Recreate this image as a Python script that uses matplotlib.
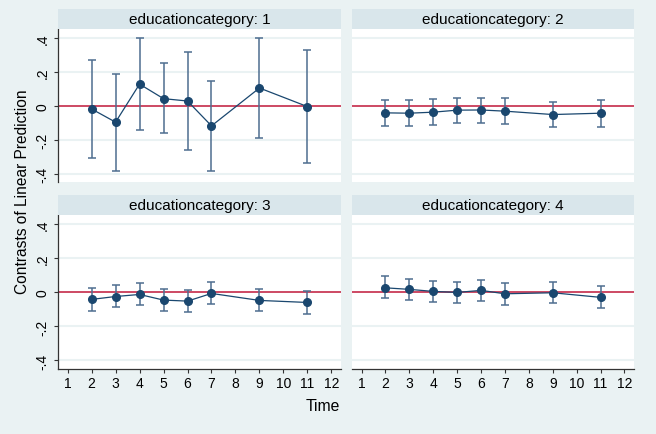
import matplotlib
matplotlib.use("Agg")
import matplotlib.pyplot as plt

plt.rcParams['font.family'] = ['Liberation Sans', 'DejaVu Sans']

# values
time = [2, 3, 4, 5, 6, 7, 9, 11]
categories = ["1", "2", "3", "4"]

est1 = [-0.018, -0.096, 0.129, 0.043, 0.029, -0.118, 0.106, -0.004]
lo1 = [-0.306, -0.382, -0.143, -0.163, -0.263, -0.382, -0.192, -0.337]
hi1 = [0.270, 0.190, 0.404, 0.255, 0.320, 0.149, 0.404, 0.329]

est2 = [-0.041, -0.043, -0.037, -0.025, -0.024, -0.031, -0.051, -0.043]
lo2 = [-0.116, -0.118, -0.112, -0.100, -0.100, -0.108, -0.127, -0.122]
hi2 = [0.037, 0.033, 0.039, 0.047, 0.049, 0.045, 0.025, 0.035]

est3 = [-0.041, -0.024, -0.012, -0.045, -0.051, -0.006, -0.047, -0.059]
lo3 = [-0.108, -0.086, -0.076, -0.108, -0.116, -0.069, -0.112, -0.124]
hi3 = [0.025, 0.043, 0.053, 0.020, 0.014, 0.059, 0.018, 0.008]

est4 = [0.027, 0.018, 0.006, 0.000, 0.012, -0.008, -0.002, -0.029]
lo4 = [-0.035, -0.045, -0.057, -0.061, -0.051, -0.071, -0.063, -0.094]
hi4 = [0.094, 0.080, 0.067, 0.059, 0.075, 0.053, 0.059, 0.035]

xticks = list(range(1, 13))
yticks = [-0.4, -0.2, 0, 0.2, 0.4]
ylabels = ["-.4", "-.2", "0", ".2", ".4"]

ests = [est1, est2, est3, est4]
los = [lo1, lo2, lo3, lo4]
his = [hi1, hi2, hi3, hi4]

bg = '#eaf2f3'
strip_bg = '#d9e6eb'
navy = '#1a476f'
capcol = '#4e6e90'
red = '#c93a57'

W, H = 656, 435
fig = plt.figure(figsize=(6.56, 4.35), dpi=100, facecolor=bg)

# pixel boxes: (left, right, top, bottom) of plot area
boxes = [(58, 341, 30, 183), (352, 634, 30, 183),
         (58, 341, 216, 370), (352, 634, 216, 370)]
strip_h = 20

for i, (l, r, t, b) in enumerate(boxes):
    ax = fig.add_axes([l / W, 1 - b / H, (r - l) / W, (b - t) / H])
    ax.set_facecolor('white')
    for yv in yticks:
        if yv != 0:
            ax.axhline(yv, color=bg, lw=1.5, zorder=0)
    ax.axhline(0, color=red, lw=1.3, zorder=1)

    e, lo, hi = ests[i], los[i], his[i]
    ax.errorbar(time, e, yerr=[[a - c for a, c in zip(e, lo)], [c - a for a, c in zip(e, hi)]],
                fmt='none', ecolor=capcol, elinewidth=1.1, capsize=2.6, capthick=1.1, zorder=2)
    ax.plot(time, e, color=navy, lw=0.9, marker='o', markersize=5.5, zorder=3)

    ax.set_xlim(0.6, 12.4)
    ax.set_ylim(-0.45, 0.455)
    for s in ['top', 'right']:
        ax.spines[s].set_visible(False)

    if i % 2 == 0:
        ax.spines['left'].set_color('#333333')
        ax.spines['left'].set_linewidth(0.9)
        ax.set_yticks(yticks)
        ax.set_yticklabels(ylabels, rotation=90, va='center', fontsize=10)
        ax.tick_params(axis='y', direction='out', length=3, width=0.8, color='#333333', pad=3)
    else:
        ax.spines['left'].set_visible(False)
        ax.set_yticks([])

    if i >= 2:
        ax.spines['bottom'].set_color('#333333')
        ax.spines['bottom'].set_linewidth(0.9)
        ax.set_xticks(xticks)
        ax.set_xticklabels([str(v) for v in xticks], fontsize=10)
        ax.tick_params(axis='x', direction='out', length=3, width=0.8, color='#333333', pad=2)
    else:
        ax.spines['bottom'].set_visible(False)
        ax.set_xticks([])

    # strip title
    sax = fig.add_axes([l / W, 1 - t / H, (r - l) / W, strip_h / H])
    sax.set_facecolor(strip_bg)
    sax.set_xticks([])
    sax.set_yticks([])
    for s in sax.spines.values():
        s.set_visible(False)
    sax.text(0.5, 0.5, "educationcategory: " + categories[i], ha='center', va='center',
             fontsize=11, transform=sax.transAxes)

fig.text(23 / W, 1 - 192 / H, "Contrasts of Linear Prediction", rotation=90,
         ha='center', va='center', fontsize=11.2)
fig.text(323 / W, 1 - 407 / H, "Time", ha='center', va='center', fontsize=11.3)

fig.savefig("out.png", dpi=100, facecolor=bg)
